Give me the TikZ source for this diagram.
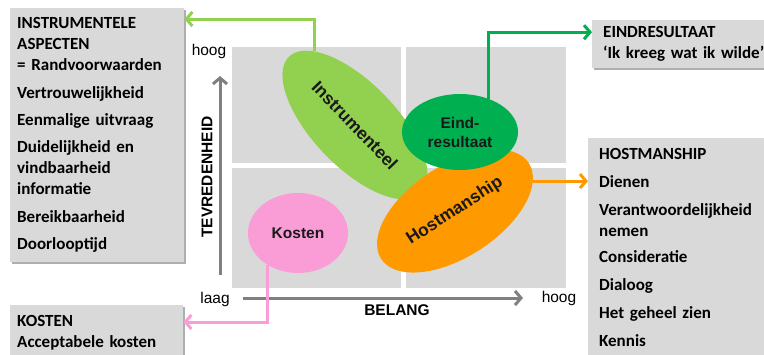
\documentclass[tikz,border=0pt]{standalone}
\usepackage{fontspec}
\setmainfont{Carlito}
\newfontfamily\arialfont{Liberation Sans}
\usetikzlibrary{arrows.meta,shapes.geometric,shadows}
\definecolor{lichtgroen}{HTML}{92D050}
\definecolor{donkergroen}{HTML}{00B050}
\definecolor{oranje}{HTML}{FF9900}
\definecolor{roze}{HTML}{FA9DD7}
\definecolor{vlak}{HTML}{D9D9D9}
\definecolor{as}{HTML}{808080}
\begin{document}
\begin{tikzpicture}[x=1pt, y=-1pt,
  kader/.style={fill=vlak, rectangle, anchor=north west, inner xsep=7pt, inner ysep=0pt, align=left,
    font=\fontsize{17}{21}\selectfont\bfseries,
    drop shadow={shadow xshift=2pt, shadow yshift=-2pt, fill=black!45, opacity=.7}},
  bol/.style={ellipse, inner sep=0pt, text=black!90, font=\arialfont\fontsize{17.5}{20}\selectfont\bfseries},
  kleinbol/.style={bol, font=\arialfont\fontsize{15.5}{19}\selectfont\bfseries},
  pijl/.style={line width=3pt, -{Straight Barb[length=6pt,width=14pt]}},
  aspijl/.style={line width=3pt, as, -{Straight Barb[length=6pt,width=14pt]}},
  aslabel/.style={font=\arialfont\fontsize{15.5}{18}\selectfont},
  astitel/.style={font=\arialfont\fontsize{15.5}{18}\selectfont\bfseries}]
\useasboundingbox (0,0) rectangle (764,354);

\fill[vlak] (232,47) rectangle (401,163);
\fill[vlak] (406,47) rectangle (566,163);
\fill[vlak] (232,168) rectangle (401,288);
\fill[vlak] (406,168) rectangle (566,288);

\draw[aspijl] (220,275) -- (220,76);
\draw[aspijl] (243,298) -- (523,298);

\node[aslabel] (hoogy) at (209,51) {hoog};
\node[aslabel] (laagx) at (215,299) {laag};
\node[aslabel] (hoogx) at (559,298) {hoog};
\node[astitel] (belang) at (397,310) {BELANG};
\node[astitel, rotate=90] (tevreden) at (207,177) {TEVREDENHEID};

\node[kader, minimum width=174, minimum height=254, text width=160] (instrbox) at (10,8)
  {INSTRUMENTELE\\ASPECTEN\\= Randvoorwaarden\\[6.5pt]Vertrouwelijkheid\\[6pt]Eenmalige uitvraag\\[6.5pt]Duidelijkheid en\\vindbaarheid\\informatie\\[7pt]Bereikbaarheid\\[6pt]Doorlooptijd};
\node[kader, minimum width=190, minimum height=48, text width=168, inner xsep=8pt] (eindbox) at (592,20)
  {EINDRESULTAAT\\‘Ik kreeg wat ik wilde’};
\node[kader, minimum width=190, minimum height=218, text width=168, inner xsep=9pt] (hostbox) at (588,138)
  {HOSTMANSHIP\\[7pt]Dienen\\[7pt]Verantwoordelijkheid\\nemen\\[5pt]Consideratie\\[7pt]Dialoog\\[7pt]Het geheel zien\\[7pt]Kennis};
\node[kader, minimum width=173, minimum height=55, text width=159] (kostenbox) at (10,305)
  {KOSTEN\\Acceptabele kosten};

\node[bol, fill=lichtgroen, minimum width=190, minimum height=84, rotate=-46] (instr) at (355,125) {Instrumenteel};
\node[bol, fill=oranje, minimum width=176, minimum height=92, rotate=33] (host) at (455,211) {Hostmanship};
\node[kleinbol, fill=donkergroen, minimum width=116, minimum height=76, align=center] (eind) at (460,132) {Eind-\\resultaat};
\node[kleinbol, fill=roze, minimum width=100, minimum height=80] (kosten) at (298,233) {Kosten};

\draw[pijl, lichtgroen] (instr.165) |- ([yshift=-11pt]instrbox.north east);
\draw[pijl, donkergroen] (eind.50) |- ([yshift=12pt]eindbox.west);
\draw[pijl, oranje] (host.-12) -- (host.-12 -| hostbox.west);
\draw[pijl, roze] (kosten.227) |- ([yshift=-17pt]kostenbox.north east);
\end{tikzpicture}
\end{document}
